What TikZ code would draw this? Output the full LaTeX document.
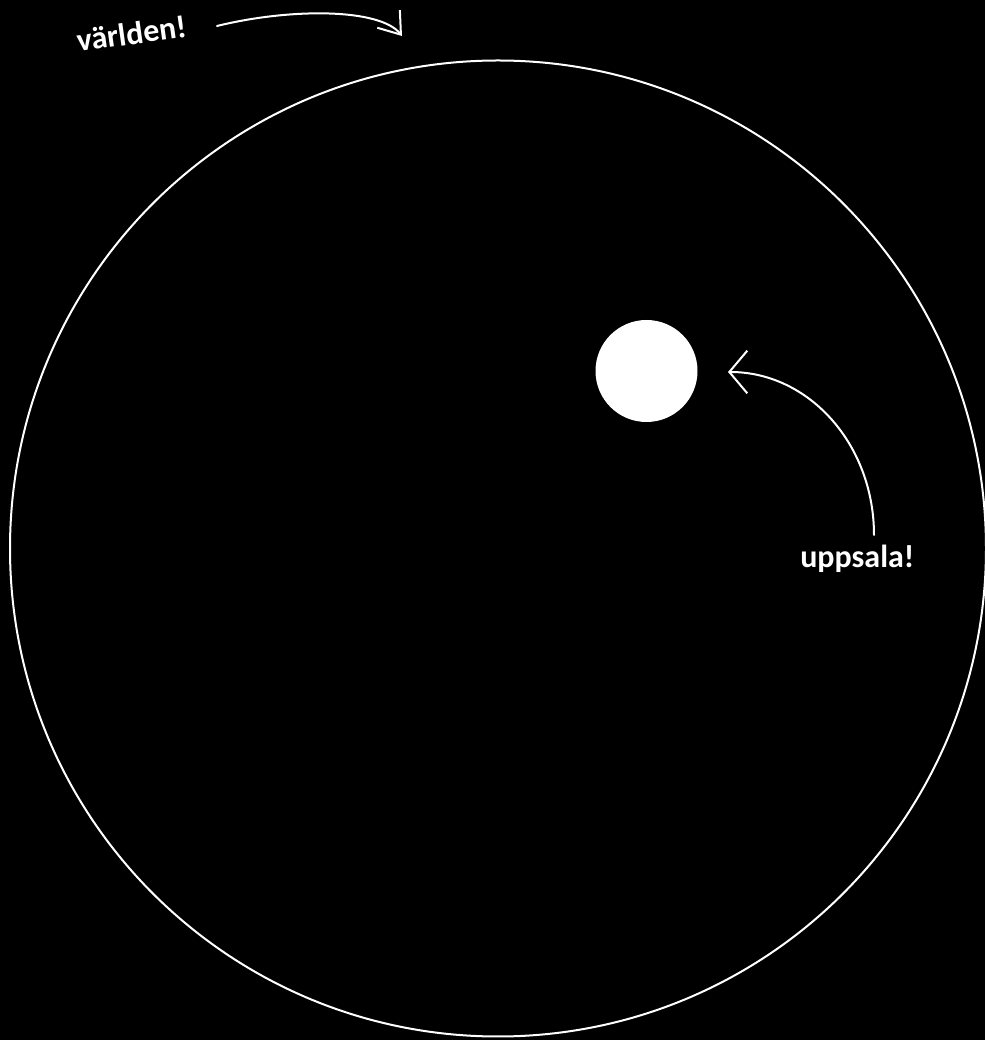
\documentclass[tikz,border=0pt]{standalone}
\usepackage{fontspec}
\setmainfont{Carlito}
\usetikzlibrary{arrows.meta}
\tikzset{
  ring/.style={circle, draw=white, line width=1.5pt, inner sep=0pt, minimum size=732pt},
  dot/.style={circle, fill=white, inner sep=0pt, minimum size=76.5pt},
  lbl/.style={text=white, font=\bfseries\fontsize{24}{28}\selectfont, inner sep=0pt},
  conn/.style={draw=white, line width=1.5pt, line cap=round},
  tipW/.style={-{Straight Barb[length=15pt, width=21.5pt, line width=1.5pt]}},
  tipU/.style={-{Straight Barb[length=13.5pt, width=32pt, line width=1.5pt]}}
}
\begin{document}
\begin{tikzpicture}[x=0.75pt, y=0.75pt]
  \fill[black] (0,0) rectangle (985,1040);
  \useasboundingbox (0,0) rectangle (985,1040);
  \node[ring] (world) at (498,491.5) {};
  \node[dot] (uppsala) at (646.5,669) {};
  \node[lbl, anchor=base west, rotate=8] (worldlbl) at (78,988) {världen!};
  \node[lbl, anchor=base west] (uppsalalbl) at (800,472) {uppsala!};
  \coordinate (w1) at (217,1014);
  \coordinate (w2) at (402,1004);
  \coordinate (u1) at (874,505);
  \coordinate (u2) at (728,668);
  \draw[conn, tipW] (w1) .. controls (290,1032) and (380,1032) .. (w2);
  \draw[conn, tipU] (u1) .. controls (874,595) and (809.5,668) .. (u2);
\end{tikzpicture}
\end{document}
